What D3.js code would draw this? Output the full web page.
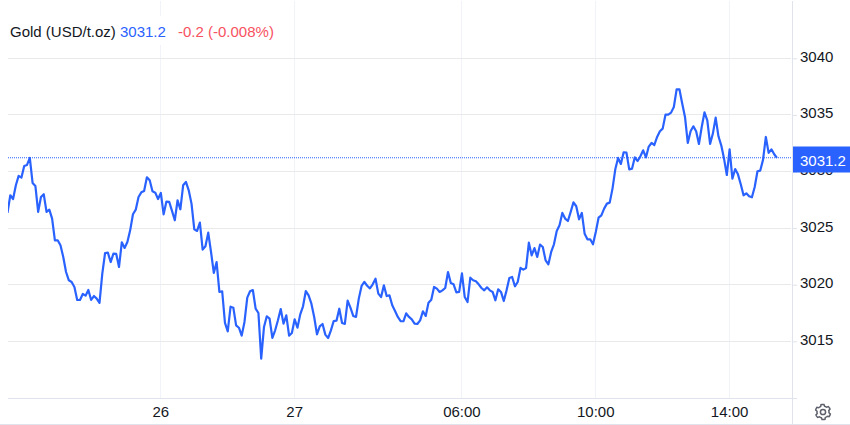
<!DOCTYPE html>
<html>
<head>
<meta charset="utf-8">
<script src="https://cdnjs.cloudflare.com/ajax/libs/d3/7.8.5/d3.min.js"></script>
<style>
  html, body { margin: 0; padding: 0; background: #fff; overflow: hidden; }
  svg { display: block; font-family: "Liberation Sans", Arial, sans-serif; }
</style>
</head>
<body>
<script>
// 5 minute gold prices
const prices = [
  3026.34, 3027.90, 3027.57, 3028.78, 3029.61, 3029.46, 3030.49, 3030.58, 3031.20, 3028.99,
  3028.72, 3026.43, 3027.75, 3027.99, 3026.43, 3026.63, 3025.84, 3023.92, 3023.92, 3023.48,
  3022.45, 3021.12, 3020.39, 3020.24, 3019.80, 3018.65, 3018.65, 3019.18, 3019.03, 3019.53,
  3018.65, 3019.00, 3018.77, 3018.39, 3020.98, 3022.80, 3022.83, 3022.00, 3022.75, 3022.72,
  3021.57, 3023.75, 3023.25, 3023.77, 3024.80, 3026.22, 3026.63, 3027.75, 3028.16, 3028.28,
  3029.49, 3029.22, 3028.25, 3028.13, 3027.57, 3028.10, 3026.22, 3027.34, 3027.31, 3026.52,
  3025.69, 3027.46, 3026.66, 3028.78, 3029.08, 3028.34, 3027.16, 3024.89, 3024.75, 3025.48,
  3023.10, 3023.39, 3024.60, 3022.89, 3021.04, 3022.00, 3019.36, 3019.42, 3016.62, 3015.88,
  3018.06, 3017.97, 3016.41, 3016.20, 3015.50, 3016.71, 3018.86, 3019.42, 3019.53, 3017.89,
  3017.50, 3013.47, 3016.27, 3017.21, 3017.00, 3015.30, 3015.97, 3016.86,
  3017.85, 3016.56, 3017.29, 3015.50, 3015.73, 3016.94, 3016.20, 3017.38, 3018.09, 3019.44,
  3019.06, 3018.32, 3017.15, 3015.62, 3016.32, 3016.53, 3015.59, 3015.29, 3015.97, 3016.79,
  3016.82, 3017.88, 3016.62, 3016.53, 3018.59, 3017.97, 3017.24, 3017.15, 3018.77, 3019.89,
  3020.24, 3019.91, 3019.68, 3020.03, 3020.53, 3019.21, 3018.91, 3019.94, 3019.00, 3019.06,
  3018.18, 3017.68, 3017.15, 3016.79, 3016.77, 3017.47, 3017.15, 3016.94, 3016.56, 3016.53,
  3016.85, 3017.65, 3017.24, 3018.41, 3018.68, 3019.80, 3019.65, 3019.36, 3019.50, 3019.71,
  3021.12, 3020.15, 3020.03, 3019.33, 3019.36, 3021.00, 3018.91, 3018.47, 3020.62, 3020.39,
  3020.30, 3020.03, 3019.71, 3019.50, 3019.77, 3019.50, 3019.36, 3018.62, 3019.59, 3019.36,
  3018.56, 3019.50, 3020.59, 3020.68, 3019.86, 3020.24, 3021.48, 3021.33, 3021.48, 3023.71,
  3022.59, 3023.24, 3022.45, 3023.54, 3023.33, 3022.15, 3021.80,
  3022.89, 3023.57, 3024.75, 3025.25, 3026.34, 3025.84, 3025.63, 3026.43, 3027.28, 3026.93,
  3025.78, 3026.34, 3024.51, 3024.01, 3024.01, 3023.57, 3024.66, 3025.92, 3026.13, 3026.72,
  3027.16, 3027.25, 3028.49, 3030.19, 3031.20, 3030.67, 3031.70, 3031.67, 3030.19, 3030.25,
  3031.25, 3030.93, 3031.34, 3031.87, 3031.25, 3032.20, 3032.52, 3032.34, 3033.05, 3033.55,
  3033.79, 3035.02, 3035.02, 3035.20, 3035.70, 3037.26, 3037.26, 3036.00, 3034.82, 3032.52,
  3033.55, 3033.99, 3033.55, 3032.43, 3033.93, 3035.23, 3034.52, 3032.43, 3033.35, 3034.76,
  3033.11, 3032.31, 3031.14, 3029.69, 3031.96, 3029.37, 3030.22, 3029.75, 3028.87, 3027.90,
  3028.07, 3027.81, 3027.72, 3028.63, 3030.02, 3030.08, 3031.05, 3033.05, 3031.64, 3031.96,
  3031.52, 3031.20
];
const yTicks = [3015, 3020, 3025, 3030, 3035, 3040];
const xTickIndex = [55, 103, 163, 211, 259];
const xTickLabels = ["26", "27", "06:00", "10:00", "14:00"];
const lastPrice = 3031.2;
const titleName = "Gold (USD/t.oz)";
const titlePrice = "3031.2";
const titleChange = "-0.2 (-0.008%)";

const w = 850, h = 425;
const plotLeft = 8, plotRight = 792, plotBottom = 398;
const blue = "#2962ff", gridH = "#e9e9ec", gridV = "#f0f3fa", axisLine = "#e0e3eb";

const svg = d3.select("body").append("svg").attr("width", w).attr("height", h);

const x = d3.scaleLinear().domain([0, prices.length - 1]).range([7.5, 777]);
const y = d3.scaleLinear().domain([3015, 3040]).range([341.3, 58.3]);

// vertical grid
svg.append("g").selectAll("line").data(xTickIndex).enter().append("line")
  .attr("x1", d => Math.floor(x(d)) + 0.5).attr("x2", d => Math.floor(x(d)) + 0.5)
  .attr("y1", 1).attr("y2", plotBottom)
  .attr("stroke", gridV);

// horizontal grid
svg.append("g").selectAll("line").data(yTicks).enter().append("line")
  .attr("x1", plotLeft).attr("x2", plotRight - 1)
  .attr("y1", d => Math.floor(y(d)) + 0.5).attr("y2", d => Math.floor(y(d)) + 0.5)
  .attr("stroke", gridH);

// bottom line and right scale border
svg.append("line").attr("x1", plotLeft).attr("x2", 797).attr("y1", plotBottom + 0.5).attr("y2", plotBottom + 0.5).attr("stroke", axisLine);
svg.append("line").attr("x1", 792.5).attr("x2", 792.5).attr("y1", 1).attr("y2", h).attr("stroke", axisLine);
svg.append("line").attr("x1", 0).attr("x2", w).attr("y1", 424.5).attr("y2", 424.5).attr("stroke", axisLine);

// y axis, the 3030 label sits under the price box like in the original
const yAxis = d3.axisRight(y).tickValues(yTicks).tickSize(4).tickPadding(3).tickFormat(d3.format("d"));
const yg = svg.append("g").attr("transform", "translate(793,0)").call(yAxis);
yg.select(".domain").remove();
yg.selectAll("line").attr("stroke", axisLine);
yg.selectAll("text").attr("font-size", 15).attr("fill", "#131722").attr("font-family", "Liberation Sans").attr("dy", "0.2em");

// x labels
svg.append("g").selectAll("text").data(xTickIndex).enter().append("text")
  .attr("x", d => x(d)).attr("y", 417)
  .attr("text-anchor", "middle").attr("font-size", 15).attr("fill", "#131722")
  .text((d, i) => xTickLabels[i]);

// title box covers the grid
svg.append("rect").attr("x", plotLeft).attr("y", 16).attr("width", 272).attr("height", 29).attr("fill", "#fff");
const title = svg.append("text").attr("x", 10).attr("y", 37).attr("font-size", 15);
title.append("tspan").attr("fill", "#131722").text(titleName);
title.append("tspan").attr("x", 120).attr("fill", blue).text(titlePrice);
title.append("tspan").attr("x", 178).attr("fill", "#f7525f").text(titleChange);

// price line
svg.append("clipPath").attr("id", "plot").append("rect")
  .attr("x", plotLeft).attr("y", 0).attr("width", plotRight - plotLeft).attr("height", plotBottom);
const line = d3.line().x((d, i) => x(i)).y(d => y(d));
svg.append("path").datum(prices)
  .attr("clip-path", "url(#plot)")
  .attr("d", line)
  .attr("fill", "none").attr("stroke", blue).attr("stroke-width", 2.2).attr("stroke-linejoin", "round");

// last price marker, not pixel aligned so the dots soften into the next row
const yLast = Math.floor(y(lastPrice)) + 0.5;
svg.append("line").attr("x1", plotLeft).attr("x2", plotRight).attr("y1", yLast + 0.25).attr("y2", yLast + 0.25)
  .attr("stroke", blue).attr("stroke-dasharray", "1 1");
svg.append("rect").attr("x", 793).attr("y", yLast - 11).attr("width", 57).attr("height", 26).attr("fill", blue);
svg.append("text").attr("x", 800).attr("y", yLast + 8).attr("font-size", 15).attr("fill", "#fff").text(lastPrice.toFixed(1));

// settings gear
const gear = svg.append("g").attr("transform", "translate(823,412)").attr("fill", "none").attr("stroke", "#5d606b").attr("stroke-width", 1.5);
const gearPts = d3.range(48).map(i => {
  const a = i / 48 * 2 * Math.PI, r = (i % 8 < 4) ? 7.6 : 6;
  return [r * Math.cos(a + 0.26), r * Math.sin(a + 0.26)];
});
gear.append("path").attr("d", d3.line().curve(d3.curveLinearClosed)(gearPts));
gear.append("circle").attr("r", 2.6);
</script>
</body>
</html>
